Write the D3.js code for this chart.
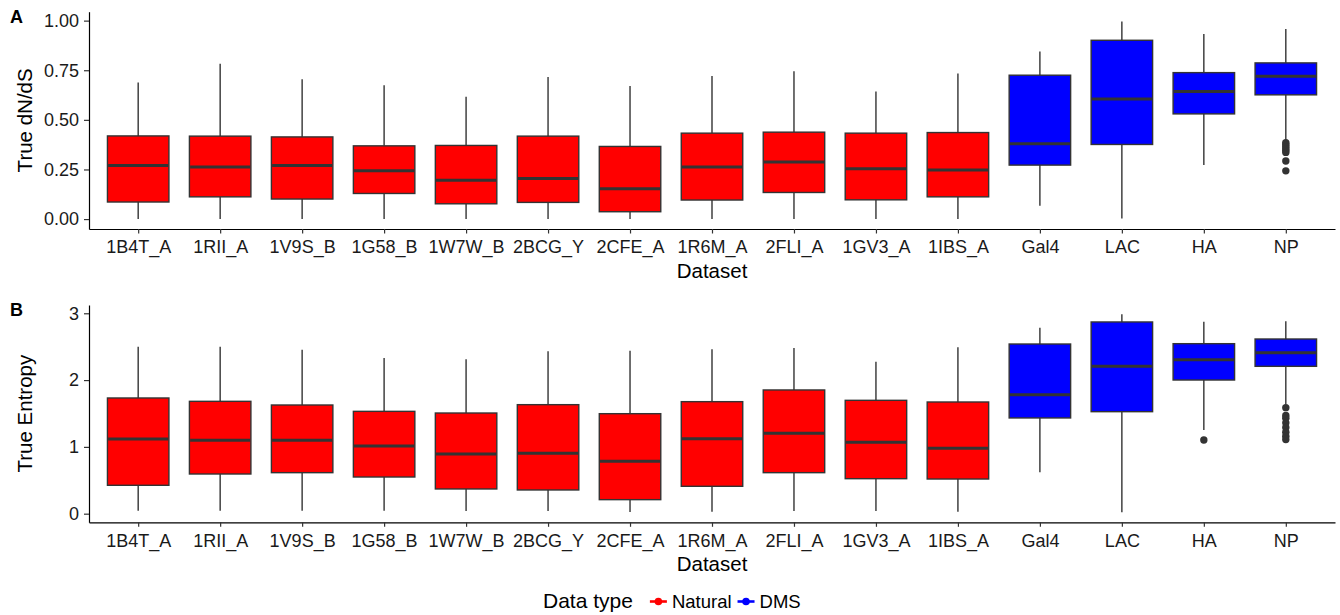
<!DOCTYPE html>
<html>
<head>
<meta charset="utf-8">
<script src="https://cdn.jsdelivr.net/npm/d3@7"></script>
<style>
  html, body { margin: 0; padding: 0; background: #fff; }
  svg { display: block; font-family: "Liberation Sans", Arial, Helvetica, sans-serif; }
</style>
</head>
<body>
<svg id="chart" width="1340" height="615"></svg>
<script>
// ---------------- DATA ----------------
const categories = ["1B4T_A","1RII_A","1V9S_B","1G58_B","1W7W_B","2BCG_Y","2CFE_A","1R6M_A","2FLI_A","1GV3_A","1IBS_A","Gal4","LAC","HA","NP"];
const dataTypes = ["Natural","Natural","Natural","Natural","Natural","Natural","Natural","Natural","Natural","Natural","Natural","DMS","DMS","DMS","DMS"];
const typeNames = ["Natural","DMS"];
const typeColors = ["#FF0000","#0000FF"];

// Panel A: True dN/dS
const dnds_low  = [0, 0, 0, 0, 0, 0, 0, 0, 0, 0, 0, 0.067, 0.003, 0.272, 0.394];
const dnds_q1   = [0.086, 0.112, 0.101, 0.129, 0.077, 0.084, 0.037, 0.096, 0.134, 0.097, 0.112, 0.272, 0.376, 0.530, 0.626];
const dnds_med  = [0.270, 0.263, 0.270, 0.243, 0.196, 0.205, 0.153, 0.262, 0.288, 0.253, 0.247, 0.379, 0.605, 0.643, 0.720];
const dnds_q3   = [0.419, 0.418, 0.414, 0.369, 0.371, 0.418, 0.366, 0.433, 0.438, 0.433, 0.436, 0.725, 0.901, 0.738, 0.787];
const dnds_high = [0.688, 0.783, 0.705, 0.674, 0.616, 0.716, 0.671, 0.721, 0.745, 0.643, 0.733, 0.844, 0.996, 0.933, 0.958];
const dnds_outlier_cats = ["NP","NP","NP","NP","NP","NP","NP","NP"];
const dnds_outlier_vals = [0.385, 0.375, 0.365, 0.355, 0.345, 0.336, 0.293, 0.243];
const dnds_ticks = [0, 0.25, 0.5, 0.75, 1.0];

// Panel B: True Entropy
const ent_low  = [0.045, 0.045, 0.045, 0.045, 0.040, 0.040, 0.025, 0.030, 0.040, 0.040, 0.030, 0.620, 0.020, 1.253, 1.640];
const ent_q1   = [0.425, 0.594, 0.614, 0.549, 0.370, 0.355, 0.210, 0.410, 0.614, 0.524, 0.519, 1.433, 1.527, 2.001, 2.206];
const ent_med  = [1.118, 1.098, 1.098, 1.013, 0.894, 0.904, 0.784, 1.123, 1.203, 1.069, 0.979, 1.782, 2.206, 2.305, 2.410];
const ent_q3   = [1.732, 1.682, 1.627, 1.532, 1.507, 1.632, 1.497, 1.677, 1.852, 1.697, 1.672, 2.540, 2.870, 2.545, 2.615];
const ent_high = [2.500, 2.500, 2.455, 2.330, 2.311, 2.431, 2.440, 2.461, 2.481, 2.276, 2.491, 2.785, 2.985, 2.875, 2.880];
const ent_outlier_cats = ["HA","NP","NP","NP","NP","NP","NP","NP","NP"];
const ent_outlier_vals = [1.103, 1.587, 1.470, 1.430, 1.360, 1.290, 1.220, 1.160, 1.110];
const ent_ticks = [0, 1, 2, 3];

// ---------------- DRAW ----------------
const svg = d3.select("#chart");
const color = d3.scaleOrdinal().domain(typeNames).range(typeColors);
const left = 89, right = 1335;

function panel(cfg) {
  const x = d3.scalePoint().domain(categories).range([left, right]).padding(0.6);
  const y = d3.scaleLinear().domain(cfg.domain).range([cfg.bottom, cfg.top]);
  const bw = x.step() * 0.75;
  const g = svg.append("g");

  const rows = categories.map((c, i) => ({
    cat: c, type: dataTypes[i],
    low: cfg.low[i], q1: cfg.q1[i], med: cfg.med[i], q3: cfg.q3[i], high: cfg.high[i]
  }));

  const box = g.selectAll("g.box").data(rows).join("g").attr("class", "box");
  box.append("line")
    .attr("x1", d => x(d.cat)).attr("x2", d => x(d.cat))
    .attr("y1", d => y(d.q3)).attr("y2", d => y(d.high))
    .attr("stroke", "#333333").attr("stroke-width", 1.4);
  box.append("line")
    .attr("x1", d => x(d.cat)).attr("x2", d => x(d.cat))
    .attr("y1", d => y(d.q1)).attr("y2", d => y(d.low))
    .attr("stroke", "#333333").attr("stroke-width", 1.4);
  box.append("rect")
    .attr("x", d => x(d.cat) - bw / 2).attr("width", bw)
    .attr("y", d => y(d.q3)).attr("height", d => y(d.q1) - y(d.q3))
    .attr("fill", d => color(d.type))
    .attr("stroke", "#333333").attr("stroke-width", 1.4);
  box.append("line")
    .attr("x1", d => x(d.cat) - bw / 2 + 0.7).attr("x2", d => x(d.cat) + bw / 2 - 0.7)
    .attr("y1", d => y(d.med)).attr("y2", d => y(d.med))
    .attr("stroke", "#333333").attr("stroke-width", 3);
  g.selectAll("circle.out").data(cfg.outCats.map((c, i) => ({cat: c, v: cfg.outVals[i]})))
    .join("circle").attr("class", "out")
    .attr("cx", d => x(d.cat)).attr("cy", d => y(d.v)).attr("r", 3.7)
    .attr("fill", "#333333");

  const xa = g.append("g").attr("transform", `translate(0,${cfg.bottom})`)
    .call(d3.axisBottom(x).tickSize(4.5).tickSizeOuter(0).tickPadding(7));
  const ya = g.append("g").attr("transform", `translate(${left},0)`)
    .call(d3.axisLeft(y).tickValues(cfg.ticks).tickFormat(cfg.fmt).tickSize(5).tickSizeOuter(0).tickPadding(5));
  [xa, ya].forEach(a => {
    a.select(".domain").attr("stroke", "#000").attr("stroke-width", 1.2);
    a.selectAll(".tick line").attr("stroke", "#333").attr("stroke-width", 1.2);
    a.selectAll(".tick text").attr("fill", "#1a1a1a").style("font-size", "18px")
      .style("font-family", "'Liberation Sans', Arial, sans-serif");
  });

  g.append("text").attr("x", (left + right) / 2).attr("y", cfg.bottom + 48.5)
    .attr("text-anchor", "middle").style("font-size", "20.5px").attr("fill", "#000").text("Dataset");
  g.append("text")
    .attr("transform", `translate(32,${(cfg.top + cfg.bottom) / 2}) rotate(-90)`)
    .attr("text-anchor", "middle").style("font-size", "20.5px").attr("fill", "#000").text(cfg.ytitle);
  g.append("text").attr("x", 10).attr("y", cfg.top + 10.8)
    .style("font-size", "18px").style("font-weight", "bold").attr("fill", "#000").text(cfg.letter);
}

panel({
  domain: [-0.05, 1.045], top: 11.7, bottom: 229,
  low: dnds_low, q1: dnds_q1, med: dnds_med, q3: dnds_q3, high: dnds_high,
  outCats: dnds_outlier_cats, outVals: dnds_outlier_vals,
  ticks: dnds_ticks, fmt: d3.format(".2f"), ytitle: "True dN/dS", letter: "A"
});
panel({
  domain: [-0.129, 3.124], top: 305, bottom: 522.3,
  low: ent_low, q1: ent_q1, med: ent_med, q3: ent_q3, high: ent_high,
  outCats: ent_outlier_cats, outVals: ent_outlier_vals,
  ticks: ent_ticks, fmt: d3.format("d"), ytitle: "True Entropy", letter: "B"
});

// legend
const lg = svg.append("g");
const ly = 601.5;
const title = lg.append("text").attr("x", 543).attr("y", ly + 6.5)
  .style("font-size", "21px").attr("fill", "#000").text("Data type");
let cx = 543 + title.node().getComputedTextLength() + 17;
typeNames.forEach((t, i) => {
  lg.append("line").attr("x1", cx).attr("x2", cx + 17).attr("y1", ly).attr("y2", ly)
    .attr("stroke", color(t)).attr("stroke-width", 2.6);
  lg.append("circle").attr("cx", cx + 8.5).attr("cy", ly).attr("r", 3.8).attr("fill", color(t));
  const lbl = lg.append("text").attr("x", cx + 22).attr("y", ly + 6.3)
    .style("font-size", "18.5px").attr("fill", "#000").text(t);
  cx = cx + 22 + lbl.node().getComputedTextLength() + 6;
});
</script>
</body>
</html>
